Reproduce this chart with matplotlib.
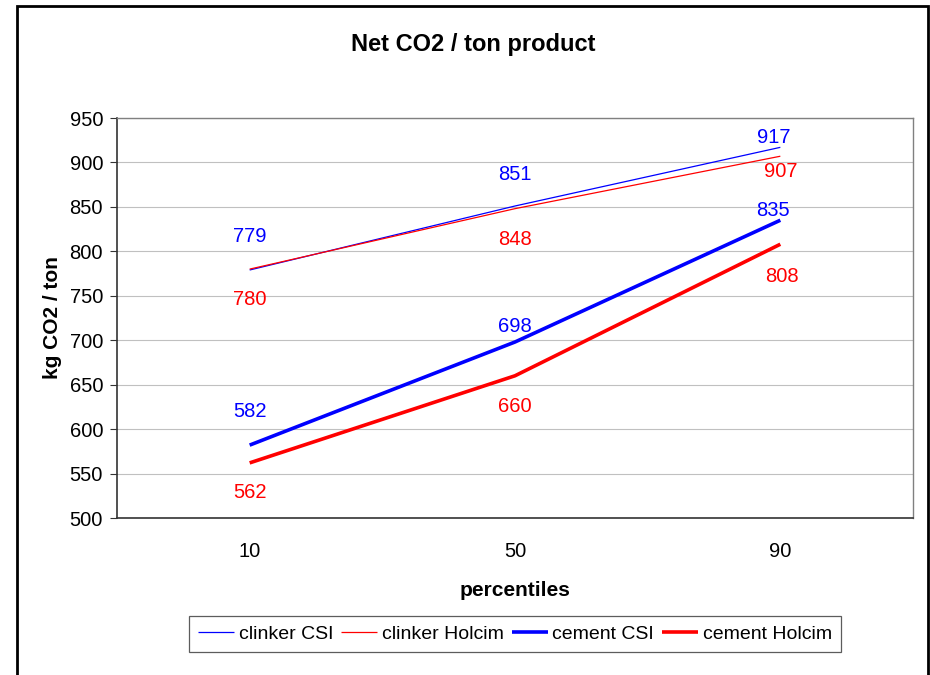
import matplotlib
matplotlib.use("Agg")
import matplotlib.pyplot as plt
from matplotlib.patches import Rectangle

plt.rcParams['font.family'] = ['Liberation Sans', 'DejaVu Sans']

# Data
percentiles = ["10", "50", "90"]
clinker_csi = [779, 851, 917]
clinker_holcim = [780, 848, 907]
cement_csi = [582, 698, 835]
cement_holcim = [562, 660, 808]
y_ticks = [500, 550, 600, 650, 700, 750, 800, 850, 900, 950]

series = [
    ("clinker CSI", clinker_csi, "#0000ff", 0.9),
    ("clinker Holcim", clinker_holcim, "#ff0000", 0.9),
    ("cement CSI", cement_csi, "#0000ff", 2.6),
    ("cement Holcim", cement_holcim, "#ff0000", 2.6),
]
# label offsets (points) per series, per category
label_offsets = [
    [(0, 24), (0, 23), (-5, 7)],
    [(0, -22), (0, -22), (0, -11)],
    [(0, 24), (0, 11), (-5, 7)],
    [(0, -21), (0, -22), (1, -23)],
]

fig = plt.figure(figsize=(9.3, 6.75), dpi=100)
ax = fig.add_axes([117/930, 1-518/675, (913-117)/930, (518-118)/675])

x = list(range(len(percentiles)))
for (name, vals, color, lw), offs in zip(series, label_offsets):
    ax.plot(x, vals, color=color, lw=lw, label=name, solid_capstyle='butt')
    for xi, v, (dx, dy) in zip(x, vals, offs):
        ax.annotate(str(v), (xi, v), xytext=(dx, dy), textcoords='offset points',
                    ha='center', va='center', color=color, fontsize=14.5)

ax.set_xlim(-0.5, len(percentiles) - 0.5)
ax.set_ylim(500, 950)
ax.set_yticks(y_ticks)
ax.set_xticks(x)
ax.set_xticklabels(percentiles)
ax.tick_params(axis='y', labelsize=14.5, length=5, width=0.8, color='#333333', pad=5)
ax.tick_params(axis='x', labelsize=14.5, length=0, pad=17)
ax.grid(axis='y', color='#c0c0c0', lw=0.8)
ax.set_axisbelow(True)
for s in ['top', 'right']:
    ax.spines[s].set_color('#808080')
    ax.spines[s].set_linewidth(1.0)
for s in ['left', 'bottom']:
    ax.spines[s].set_color('#333333')
    ax.spines[s].set_linewidth(1.2)

ax.set_xlabel("percentiles", fontsize=15, fontweight='bold', va='center')
ax.set_ylabel("kg CO2 / ton", fontsize=15, fontweight='bold', va='center')
ax.xaxis.set_label_coords(0.5, (518-590)/400)
ax.yaxis.set_label_coords((53-117)/796, 0.5)
fig.text(473/930, 1-44/675, "Net CO2 / ton product", ha='center', va='center',
         fontsize=17, fontweight='bold')

leg = fig.legend(loc='center', bbox_to_anchor=(515/930, 1-634/675), ncol=4,
                 fontsize=14, frameon=True, fancybox=False, edgecolor='#333333',
                 handlelength=1.85, handletextpad=0.25, columnspacing=0.4,
                 borderpad=0.45, borderaxespad=0)
leg.get_frame().set_linewidth(0.9)

# outer chart border
fig.patches.append(Rectangle((17/930, -0.02), (928-17)/930, 1-6/675+0.02,
                             transform=fig.transFigure, fill=False,
                             edgecolor='black', lw=2))

fig.savefig("out.png", dpi=100)
